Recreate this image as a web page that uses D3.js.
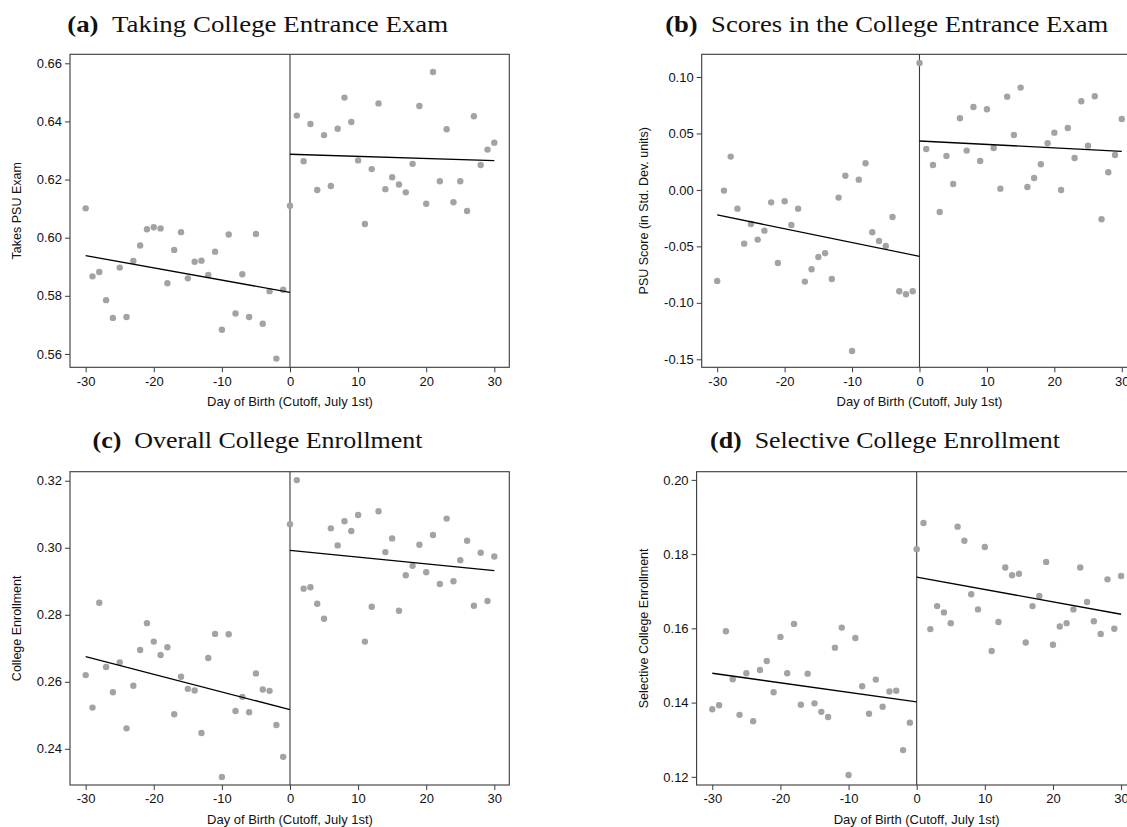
<!DOCTYPE html>
<html>
<head>
<meta charset="utf-8">
<script src="https://cdn.jsdelivr.net/npm/d3@7"></script>
<style>
  html, body { margin: 0; padding: 0; background: #fff; overflow: hidden; }
  svg { display: block; }
</style>
</head>
<body>
<svg id="fig" width="1127" height="827"></svg>
<script>
// Day of birth relative to the July 1st cutoff
const days = d3.range(-30, 31);
const dayTicks = [-30, -20, -10, 0, 10, 20, 30];

// (a) share taking the PSU exam, by day of birth
const takesExam = [
  0.6101, 0.5867, 0.5882, 0.5785, 0.5724, 0.5897, 0.5727, 0.5920, 0.5973, 0.6029,
  0.6036, 0.6032, 0.5843, 0.5958, 0.6019, 0.5860, 0.5917, 0.5921, 0.5872, 0.5952,
  0.5683, 0.6011, 0.5739, 0.5874, 0.5727, 0.6013, 0.5704, 0.5816, 0.5584, 0.5821,
  0.6110,
  0.6420, 0.6263, 0.6391, 0.6164, 0.6353, 0.6178, 0.6375, 0.6482, 0.6398, 0.6266,
  0.6047, 0.6236, 0.6462, 0.6167, 0.6208, 0.6183, 0.6156, 0.6254, 0.6453, 0.6117,
  0.6570, 0.6194, 0.6373, 0.6122, 0.6194, 0.6092, 0.6418, 0.6250, 0.6303, 0.6327
];
const takesExamFitLeft = [0.5938, 0.5812];
const takesExamFitRight = [0.6287, 0.6265];
const takesExamTicks = [0.56, 0.58, 0.60, 0.62, 0.64, 0.66];

// (b) PSU score in standard deviation units
const psuScore = [
  -0.0806, -0.0006, 0.0295, -0.0166, -0.0476, -0.0302, -0.0440, -0.0361, -0.0110, -0.0647,
  -0.0101, -0.0310, -0.0166, -0.0812, -0.0703, -0.0594, -0.0561, -0.0789, -0.0068, 0.0126,
  -0.1426, 0.0091, 0.0236, -0.0375, -0.0452, -0.0496, -0.0240, -0.0898, -0.0924, -0.0898,
  0.1124,
  0.0362, 0.0221, -0.0195, 0.0300, 0.0053, 0.0634, 0.0348, 0.0734, 0.0256, 0.0714,
  0.0371, 0.0011, 0.0826, 0.0486, 0.0906, 0.0026, 0.0106, 0.0227, 0.0413, 0.0507,
  -0.0001, 0.0548, 0.0283, 0.0785, 0.0392, 0.0829, -0.0260, 0.0156, 0.0309, 0.0628
];
const psuScoreFitLeft = [-0.0222, -0.0588];
const psuScoreFitRight = [0.0433, 0.0342];
const psuScoreTicks = [-0.15, -0.10, -0.05, 0.00, 0.05, 0.10];

// (c) overall college enrollment
const enrollment = [
  0.2620, 0.2523, 0.2836, 0.2644, 0.2569, 0.2658, 0.2461, 0.2588, 0.2695, 0.2775,
  0.2720, 0.2680, 0.2703, 0.2503, 0.2615, 0.2579, 0.2574, 0.2447, 0.2671, 0.2743,
  0.2316, 0.2742, 0.2513, 0.2555, 0.2509, 0.2625, 0.2577, 0.2573, 0.2471, 0.2376,
  0.3070,
  0.3202, 0.2878, 0.2882, 0.2833, 0.2788, 0.3058, 0.3007, 0.3079, 0.3050, 0.3098,
  0.2720, 0.2824, 0.3109, 0.2987, 0.3028, 0.2812, 0.2918, 0.2946, 0.3009, 0.2927,
  0.3038, 0.2892, 0.3087, 0.2900, 0.2963, 0.3021, 0.2827, 0.2985, 0.2841, 0.2974
];
const enrollmentFitLeft = [0.2675, 0.2517];
const enrollmentFitRight = [0.2992, 0.2932];
const enrollmentTicks = [0.24, 0.26, 0.28, 0.30, 0.32];

// (d) selective college enrollment
const selective = [
  0.1382, 0.1393, 0.1592, 0.1463, 0.1367, 0.1479, 0.1350, 0.1488, 0.1512, 0.1428,
  0.1577, 0.1479, 0.1612, 0.1394, 0.1478, 0.1398, 0.1375, 0.1361, 0.1548, 0.1602,
  0.1205, 0.1574, 0.1444, 0.1370, 0.1462, 0.1389, 0.1430, 0.1432, 0.1272, 0.1346,
  0.1813,
  0.1884, 0.1598, 0.1660, 0.1643, 0.1614, 0.1874, 0.1836, 0.1692, 0.1651, 0.1819,
  0.1539, 0.1617, 0.1764, 0.1743, 0.1747, 0.1562, 0.1660, 0.1687, 0.1779, 0.1556,
  0.1605, 0.1614, 0.1651, 0.1764, 0.1671, 0.1619, 0.1585, 0.1732, 0.1599, 0.1741
];
const selectiveFitLeft = [0.1479, 0.1402];
const selectiveFitRight = [0.1738, 0.1638];
const selectiveTicks = [0.12, 0.14, 0.16, 0.18, 0.20];

const xLabel = "Day of Birth (Cutoff, July 1st)";

const panels = [
  { tag: "(a)", title: "Taking College Entrance Exam", titleX: 257.7, titleY: 31.7, titleW: 381,
    yLabel: "Takes PSU Exam", yLabelX: 20.5,
    values: takesExam, fitL: takesExamFitLeft, fitR: takesExamFitRight, ticks: takesExamTicks,
    left: 70, right: 509.3, top: 54.3, bottom: 367.3, yDomain: [0.5554, 0.6631] },
  { tag: "(b)", title: "Scores in the College Entrance Exam", titleX: 886.7, titleY: 31.7, titleW: 443,
    yLabel: "PSU Score (in Std. Dev. units)", yLabelX: 647.5,
    values: psuScore, fitL: psuScoreFitLeft, fitR: psuScoreFitRight, ticks: psuScoreTicks,
    left: 701.7, right: 1136.6, top: 54.3, bottom: 367.3, yDomain: [-0.1571, 0.1201] },
  { tag: "(c)", title: "Overall College Enrollment", titleX: 257.5, titleY: 448.3, titleW: 330,
    yLabel: "College Enrollment", yLabelX: 20.5,
    values: enrollment, fitL: enrollmentFitLeft, fitR: enrollmentFitRight, ticks: enrollmentTicks,
    left: 70, right: 509.3, top: 471.7, bottom: 785, yDomain: [0.2292, 0.3227] },
  { tag: "(d)", title: "Selective College Enrollment", titleX: 885, titleY: 448.3, titleW: 350,
    yLabel: "Selective College Enrollment", yLabelX: 647.5,
    values: selective, fitL: selectiveFitLeft, fitR: selectiveFitRight, ticks: selectiveTicks,
    left: 696.6, right: 1136.1, top: 471.7, bottom: 785, yDomain: [0.1178, 0.2022] }
];

const svg = d3.select("#fig");
const sans = "'Liberation Sans', Arial, Helvetica, sans-serif";
const serif = "'Liberation Serif', 'Times New Roman', serif";
const frameColor = "#3a3a3a";
const dotColor = "#a3a3a3";

// tick labels use a plain hyphen for negative numbers
const locale = d3.formatLocale({ decimal: ".", thousands: ",", grouping: [3], currency: ["", ""], minus: "-" });
const fmtValue = locale.format(".2f");
const fmtDay = locale.format("d");

panels.forEach(p => {
  const g = svg.append("g");
  const x = d3.scaleLinear().domain([-32.3, 32.2]).range([p.left, p.right]);
  const y = d3.scaleLinear().domain(p.yDomain).range([p.bottom, p.top]);

  // panel title: bold tag followed by the caption
  const t = g.append("text")
    .attr("x", p.titleX).attr("y", p.titleY)
    .attr("text-anchor", "middle")
    .attr("font-family", serif)
    .attr("font-size", 22.5)
    .attr("fill", "#111")
    .attr("textLength", p.titleW)
    .attr("lengthAdjust", "spacingAndGlyphs");
  t.append("tspan").attr("font-weight", "bold").text(p.tag);
  t.append("tspan").text("\u2002" + p.title);

  // y axis
  const yAxis = g.append("g")
    .attr("transform", `translate(${p.left},0)`)
    .call(d3.axisLeft(y).tickValues(p.ticks).tickFormat(fmtValue).tickSize(5).tickPadding(3));
  yAxis.select(".domain").remove();

  // x axis
  const xAxis = g.append("g")
    .attr("transform", `translate(0,${p.bottom})`)
    .call(d3.axisBottom(x).tickValues(dayTicks).tickFormat(fmtDay).tickSize(5).tickPadding(4));
  xAxis.select(".domain").remove();

  [yAxis, xAxis].forEach(a => {
    a.selectAll("line").attr("stroke", frameColor).attr("stroke-width", 1);
    a.selectAll("text").attr("font-family", sans).attr("font-size", 13).attr("fill", "#111");
  });

  // plot frame
  g.append("rect")
    .attr("x", p.left).attr("y", p.top)
    .attr("width", p.right - p.left).attr("height", p.bottom - p.top)
    .attr("fill", "none").attr("stroke", frameColor).attr("stroke-width", 1.1);

  // cutoff line
  g.append("line")
    .attr("x1", x(0)).attr("x2", x(0))
    .attr("y1", p.top).attr("y2", p.bottom)
    .attr("stroke", frameColor).attr("stroke-width", 1.1);

  // daily means
  g.append("g").selectAll("circle")
    .data(days.map((d, i) => ({ day: d, v: p.values[i] })))
    .join("circle")
    .attr("cx", d => x(d.day))
    .attr("cy", d => y(d.v))
    .attr("r", 3.2)
    .attr("fill", dotColor);

  // linear fits on each side of the cutoff
  const line = d3.line().x(d => x(d[0])).y(d => y(d[1]));
  [[[-30, p.fitL[0]], [0, p.fitL[1]]], [[0, p.fitR[0]], [30, p.fitR[1]]]].forEach(seg => {
    g.append("path")
      .attr("d", line(seg))
      .attr("fill", "none")
      .attr("stroke", "#000")
      .attr("stroke-width", 1.3);
  });

  // axis titles
  g.append("text")
    .attr("x", (x(-30) + x(30)) / 2)
    .attr("y", p.bottom + 39)
    .attr("text-anchor", "middle")
    .attr("font-family", sans).attr("font-size", 13).attr("fill", "#111")
    .text(xLabel);

  g.append("text")
    .attr("transform", `translate(${p.yLabelX},${(p.top + p.bottom) / 2}) rotate(-90)`)
    .attr("text-anchor", "middle")
    .attr("font-family", sans).attr("font-size", 12.5).attr("fill", "#111")
    .text(p.yLabel);
});
</script>
</body>
</html>
